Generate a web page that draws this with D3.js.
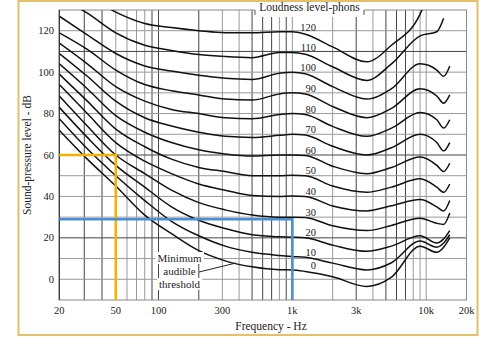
<!DOCTYPE html>
<meta charset="utf-8">
<style>
  body { margin: 0; background: #fff; }
  text { font-family: "Liberation Serif", "DejaVu Serif", serif; fill: #222; }
</style>
<svg width="500" height="337"></svg>
<script src="https://cdn.jsdelivr.net/npm/d3@7/dist/d3.min.js"></script>
<script>
  // frequencies (Hz) the contours are read at
  var freqs = [20, 31.5, 50, 80, 125, 200, 315, 500, 800, 1000, 1250, 2000, 3600, 5500, 9000, 12000, 13500, 15000];
  var phons = [0, 10, 20, 30, 40, 50, 60, 70, 80, 90, 100, 110, 120];
  // sound-pressure level (dB) of each contour at the freqs above
  var spl0   = [72, 58, 45, 31, 22, 13.8, 8.9, 6, 4.6, 4.5, 3.8, 1.2, -3.5, 1, 16, 13, 15.5, 20];
  var spl10  = [77.5, 63, 50, 38, 28, 21, 16, 13, 11.5, 11, 10.6, 7.8, 4.5, 8, 18.5, 15.5, 17.5, 21.5];
  var spl20  = [83, 68.5, 55, 44.5, 35, 28.5, 24.5, 21.5, 20.5, 20.3, 20, 16.5, 13.5, 16, 21, 17.5, 19.5, 23.5];
  var spl30  = [88.5, 74, 60, 51, 43, 37, 33.5, 31, 30, 30, 29.8, 25.8, 23.5, 26, 29.5, 27, 26.5, 32];
  var spl40  = [94, 80, 66, 57, 51, 46, 43, 40.5, 40, 40.2, 40, 35.4, 33, 35.5, 38.5, 35, 33, 38];
  var spl50  = [99, 86, 72.5, 64, 58, 54, 52, 50, 50, 50.2, 50, 45, 42, 44.5, 48.5, 44.5, 42, 46];
  var spl60  = [104, 92, 79, 71, 66, 62.5, 60.5, 59.5, 60, 60, 59.8, 54.6, 51, 54, 59, 55, 52, 56];
  var spl70  = [109, 98, 86, 78, 74, 71, 69, 68.5, 69.5, 70, 69.6, 64.2, 60, 63.5, 70, 66, 62, 66];
  var spl80  = [114, 104, 93, 86, 82, 80, 78, 77.5, 79.5, 80, 79.5, 73.8, 69, 73, 80.5, 77, 73, 77];
  var spl90  = [119, 111, 101, 94, 91, 89, 87, 86.5, 89.5, 90, 89.4, 83.4, 78, 82.5, 92, 88.5, 85, 89];
  var spl100 = [127, 118, 109, 103, 100.5, 98.5, 97, 96.5, 99.5, 100, 99.2, 93, 87, 92, 104, 101, 98, 103];
  var spl110 = [136, 128.5, 119, 113, 110.5, 108.5, 107.5, 107, 109.5, 109.5, 108.6, 102.6, 96, 104, 117.5, 119.5, 126, null];
  var spl120 = [146, 137, 129, 123.5, 121.5, 120, 119, 119, 119.5, 119.5, 118.3, 112.2, 105, 113, 128, 150, null, null];
  var curves = [spl0, spl10, spl20, spl30, spl40, spl50, spl60, spl70, spl80, spl90, spl100, spl110, spl120];

  var xTicks = [20, 50, 100, 300, 1000, 3000, 10000, 20000];
  var xTickLabels = ["20", "50", "100", "300", "1k", "3k", "10k", "20k"];
  var yTicks = [0, 20, 40, 60, 80, 100, 120];
  var gridFreqs = [30, 40, 50, 60, 70, 80, 90, 100, 200, 300, 400, 500, 600, 700, 800, 900,
                   1000, 2000, 3000, 4000, 5000, 6000, 7000, 8000, 9000, 10000];
  var darkFreqs = [30, 40, 90, 100, 200, 500, 600, 700, 900, 3000, 5000, 6000, 7000];
  var gridLevels = [0, 10, 20, 30, 40, 50, 60, 70, 80, 90, 100, 110, 120];
  var darkLevels = [20, 60, 110];
  // the two worked examples: 50 Hz at 60 dB and 1 kHz at 29 dB
  var yellowMark = [50, 60];
  var blueMark = [1000, 29];

  var svg = d3.select("svg");
  var pLeft = 59.3, pRight = 466.5, pTop = 10, pBottom = 300;
  var x = d3.scaleLog().domain([20, 100, 20000]).range([pLeft, 158.5, pRight]);
  var y = d3.scaleLinear().domain([-10, 130]).range([pBottom, pTop]);

  // outer gold frame
  svg.append("rect")
    .attr("x", 18.5).attr("y", 1).attr("width", 459).attr("height", 334)
    .attr("fill", "none").attr("stroke", "#e4c06a").attr("stroke-width", 2);

  svg.append("defs").append("clipPath").attr("id", "plot")
    .append("rect").attr("x", pLeft).attr("y", pTop).attr("width", pRight - pLeft).attr("height", pBottom - pTop);

  var grid = svg.append("g");
  grid.selectAll("line.v")
    .data(gridFreqs)
    .enter().append("line")
    .attr("x1", function(d) { return x(d); })
    .attr("x2", function(d) { return x(d); })
    .attr("y1", pTop).attr("y2", pBottom)
    .attr("stroke", function(d) { return darkFreqs.indexOf(d) >= 0 ? "#444" : "#999"; })
    .attr("stroke-width", 1);
  grid.selectAll("line.h")
    .data(gridLevels)
    .enter().append("line")
    .attr("x1", pLeft).attr("x2", pRight)
    .attr("y1", function(d) { return y(d); })
    .attr("y2", function(d) { return y(d); })
    .attr("stroke", function(d) { return darkLevels.indexOf(d) >= 0 ? "#444" : "#999"; })
    .attr("stroke-width", 1);
  grid.append("rect")
    .attr("x", pLeft).attr("y", pTop).attr("width", pRight - pLeft).attr("height", pBottom - pTop)
    .attr("fill", "none").attr("stroke", "#888").attr("stroke-width", 1);
  grid.append("line")
    .attr("x1", pLeft).attr("x2", pLeft).attr("y1", pTop).attr("y2", pBottom)
    .attr("stroke", "#333").attr("stroke-width", 1.2);

  var line = d3.line()
    .defined(function(d) { return d[1] != null; })
    .x(function(d) { return x(d[0]); })
    .y(function(d) { return y(d[1]); })
    .curve(d3.curveMonotoneX);

  svg.append("g")
    .attr("clip-path", "url(#plot)")
    .selectAll("path")
    .data(curves)
    .enter().append("path")
    .attr("d", function(c) { return line(freqs.map(function(f, i) { return [f, c[i]]; })); })
    .attr("fill", "none")
    .attr("stroke", "#111")
    .attr("stroke-width", 1.5);

  // phon labels, just right of 1 kHz, sitting on their curve
  var k = freqs.indexOf(1000);
  svg.append("g").selectAll("text")
    .data(phons)
    .enter().append("text")
    .attr("x", 316)
    .attr("y", function(d, i) { return y(curves[i][k]) - 1; })
    .attr("text-anchor", "end")
    .attr("font-size", 10.5)
    .text(function(d) { return d; });

  // worked examples
  svg.append("path")
    .attr("d", "M" + pLeft + "," + y(yellowMark[1]) + "H" + x(yellowMark[0]) + "V" + pBottom)
    .attr("fill", "none").attr("stroke", "#f2b200").attr("stroke-width", 2.6);
  svg.append("path")
    .attr("d", "M" + pLeft + "," + y(blueMark[1]) + "H" + x(blueMark[0]) + "V" + pBottom)
    .attr("fill", "none").attr("stroke", "#4a8ed4").attr("stroke-width", 2.6);

  // axis labels
  svg.append("g").selectAll("text")
    .data(yTicks)
    .enter().append("text")
    .attr("x", 54).attr("y", function(d) { return y(d) + 3.5; })
    .attr("text-anchor", "end").attr("font-size", 10.5)
    .text(function(d) { return d; });
  svg.append("g").selectAll("text")
    .data(xTicks)
    .enter().append("text")
    .attr("x", function(d) { return x(d); }).attr("y", 314)
    .attr("text-anchor", "middle").attr("font-size", 10.5)
    .text(function(d, i) { return xTickLabels[i]; });

  svg.append("text")
    .attr("x", 271).attr("y", 330)
    .attr("text-anchor", "middle").attr("font-size", 11.5)
    .text("Frequency - Hz");
  svg.append("text")
    .attr("transform", "translate(31,155) rotate(-90)")
    .attr("text-anchor", "middle").attr("font-size", 11.5)
    .text("Sound-pressure level - dB");

  // title on the top edge, on a white patch with small bracket ends
  svg.append("rect").attr("x", 255).attr("y", 2.5).attr("width", 109).attr("height", 14.5).attr("fill", "#fff");
  svg.append("path")
    .attr("d", "M255,10V15M364,10V15")
    .attr("stroke", "#555").attr("stroke-width", 1);
  svg.append("text")
    .attr("x", 309.5).attr("y", 11)
    .attr("text-anchor", "middle").attr("font-size", 11.5)
    .text("Loudness level-phons");

  function boxed(tx, ty, str, size) {
    var g = svg.append("g");
    var bg = g.append("rect").attr("fill", "#fff");
    var t = g.append("text").attr("x", tx).attr("y", ty)
      .attr("text-anchor", "middle").attr("font-size", size).text(str);
    var b = t.node().getBBox();
    bg.attr("x", b.x - 2).attr("y", b.y).attr("width", b.width + 4).attr("height", b.height);
  }

  // threshold note
  svg.append("line")
    .attr("x1", 199).attr("y1", 272).attr("x2", 236).attr("y2", 263)
    .attr("stroke", "#222").attr("stroke-width", 1);
  boxed(179.5, 262, "Minimum", 11);
  boxed(179.5, 275, "audible", 11);
  boxed(179.5, 288, "threshold", 11);
</script>
